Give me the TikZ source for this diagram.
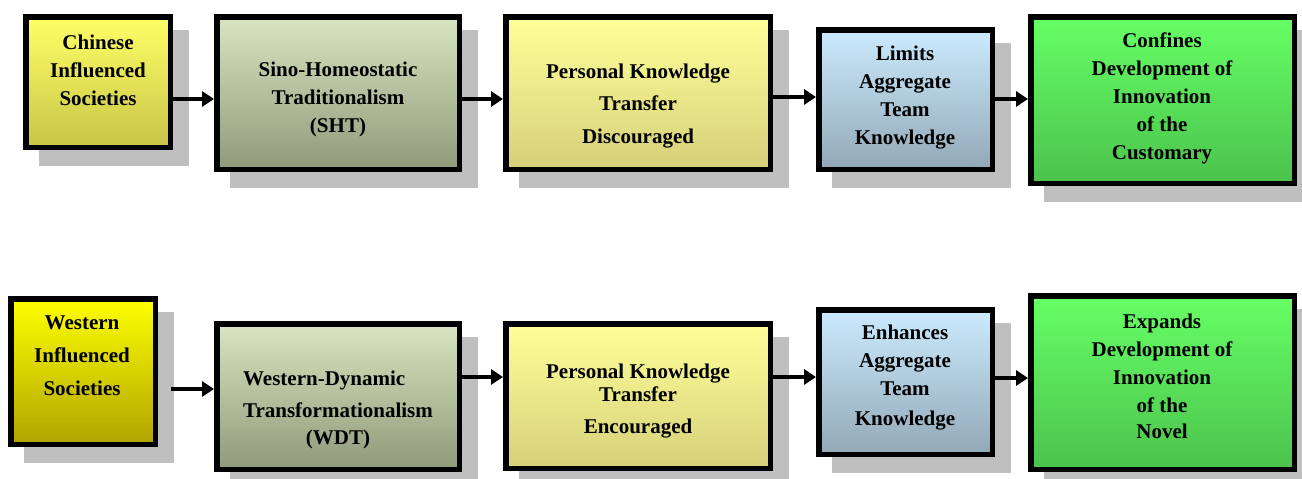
\documentclass[tikz,border=0pt]{standalone}
\usepackage{fontspec}
\setmainfont{Liberation Serif}
\usetikzlibrary{arrows.meta,backgrounds}

\definecolor{shadowc}{HTML}{BFBFBF}
\definecolor{yelTop}{HTML}{FFFF66}
\definecolor{yelBot}{HTML}{C8C448}
\definecolor{wyelTop}{HTML}{FFFF00}
\definecolor{wyelBot}{HTML}{B0A400}
\definecolor{oliveTop}{HTML}{D9E4C0}
\definecolor{oliveBot}{HTML}{8E9A7A}
\definecolor{paleTop}{HTML}{FFFF99}
\definecolor{paleBot}{HTML}{D6D07A}
\definecolor{blueTop}{HTML}{CCEBFF}
\definecolor{blueBot}{HTML}{92A8B6}
\definecolor{greenTop}{HTML}{66FF66}
\definecolor{greenBot}{HTML}{4CC24C}

\tikzset{
  box/.style={draw=black, line width=5.5pt, rectangle, inner sep=0pt},
  lbl/.style={align=center, inner sep=0pt,
    font=\bfseries\fontsize{21}{28}\selectfont},
  arr/.style={line width=4.5pt, -{Triangle[length=12pt,width=15pt]}},
  shadowbox/.style={fill=shadowc}
}

\newcommand{\boxshadow}[1]{%
  \fill[shadowbox] ([shift={(16,16)}]#1.north west) rectangle
                   ([shift={(16,16)}]#1.south east);}

\begin{document}
\begin{tikzpicture}[x=1pt,y=-1pt]
\useasboundingbox (0,0) rectangle (1302,479);

% ---- upper chain ----
\node[box, minimum width=144.5pt, minimum height=130.5pt,
      top color=yelTop, bottom color=yelBot] (b1) at (98,82) {};
\node[box, minimum width=242.5pt, minimum height=152.5pt,
      top color=oliveTop, bottom color=oliveBot] (b2) at (338,93) {};
\node[box, minimum width=264.5pt, minimum height=152.5pt,
      top color=paleTop, bottom color=paleBot] (b3) at (638,93) {};
\node[box, minimum width=173.5pt, minimum height=139.5pt,
      top color=blueTop, bottom color=blueBot] (b4) at (905.5,99.5) {};
\node[box, minimum width=263.5pt, minimum height=166.5pt,
      top color=greenTop, bottom color=greenBot] (b5) at (1162.5,100) {};

\node[lbl] (t1) at (98,70) {Chinese\\Influenced\\Societies};
\node[lbl] (t2) at (338,99) {Sino-Homeostatic\\Traditionalism\\(SHT)};
\node[lbl] (t3) at (638,106) {Personal Knowledge\\[4pt]Transfer\\[5pt]Discouraged};
\node[lbl] (t4) at (905,97.5) {Limits\\Aggregate\\Team\\Knowledge};
\node[lbl] (t5) at (1162,98.5) {Confines\\Development of\\Innovation\\of the\\Customary};

% ---- lower chain ----
\node[box, minimum width=144.5pt, minimum height=145.5pt,
      top color=wyelTop, bottom color=wyelBot] (c1) at (83,371.5) {};
\node[box, minimum width=242.5pt, minimum height=145.5pt,
      top color=oliveTop, bottom color=oliveBot] (c2) at (338,396.5) {};
\node[box, minimum width=264.5pt, minimum height=144.5pt,
      top color=paleTop, bottom color=paleBot] (c3) at (638,396) {};
\node[box, minimum width=173.5pt, minimum height=144.5pt,
      top color=blueTop, bottom color=blueBot] (c4) at (905.5,382) {};
\node[box, minimum width=263.5pt, minimum height=173.5pt,
      top color=greenTop, bottom color=greenBot] (c5) at (1162.5,382.5) {};

\node[lbl] (u1) at (82,356) {Western\\[5pt]Influenced\\[5pt]Societies};
\node[lbl] (u2) at (338,410) {\rlap{Western-Dynamic}\phantom{Transformationalism}\\[4pt]Transformationalism\\[-1pt](WDT)};
\node[lbl] (u3) at (638,401.5) {Personal Knowledge\\[-5pt]Transfer\\[4pt]Encouraged};
\node[lbl] (u4) at (905,377.5) {Enhances\\Aggregate\\Team\\[2pt]Knowledge};
\node[lbl] (u5) at (1162,376) {Expands\\Development of\\Innovation\\of the\\[-2pt]Novel};

% ---- drop shadows ----
\begin{pgfonlayer}{background}
  \foreach \n in {b1,b2,b3,b4,b5,c1,c2,c3,c4,c5} {\boxshadow{\n}}
\end{pgfonlayer}

% ---- connectors ----
\coordinate (ra) at (0,99);
\coordinate (rb) at (0,97);
\coordinate (sa) at (0,377);
\coordinate (sb) at (0,378);
\coordinate (w0) at (171,389);

\draw[arr] (b1.east |- ra) -- (b2.west |- ra);
\draw[arr] (b2.east |- ra) -- (b3.west |- ra);
\draw[arr] (b3.east |- rb) -- (b4.west |- rb);
\draw[arr] (b4.east |- ra) -- (b5.west |- ra);

\draw[arr] (w0) -- (c2.west |- w0);
\draw[arr] (c2.east |- sa) -- (c3.west |- sa);
\draw[arr] (c3.east |- sa) -- (c4.west |- sa);
\draw[arr] (c4.east |- sb) -- (c5.west |- sb);
\end{tikzpicture}
\end{document}
